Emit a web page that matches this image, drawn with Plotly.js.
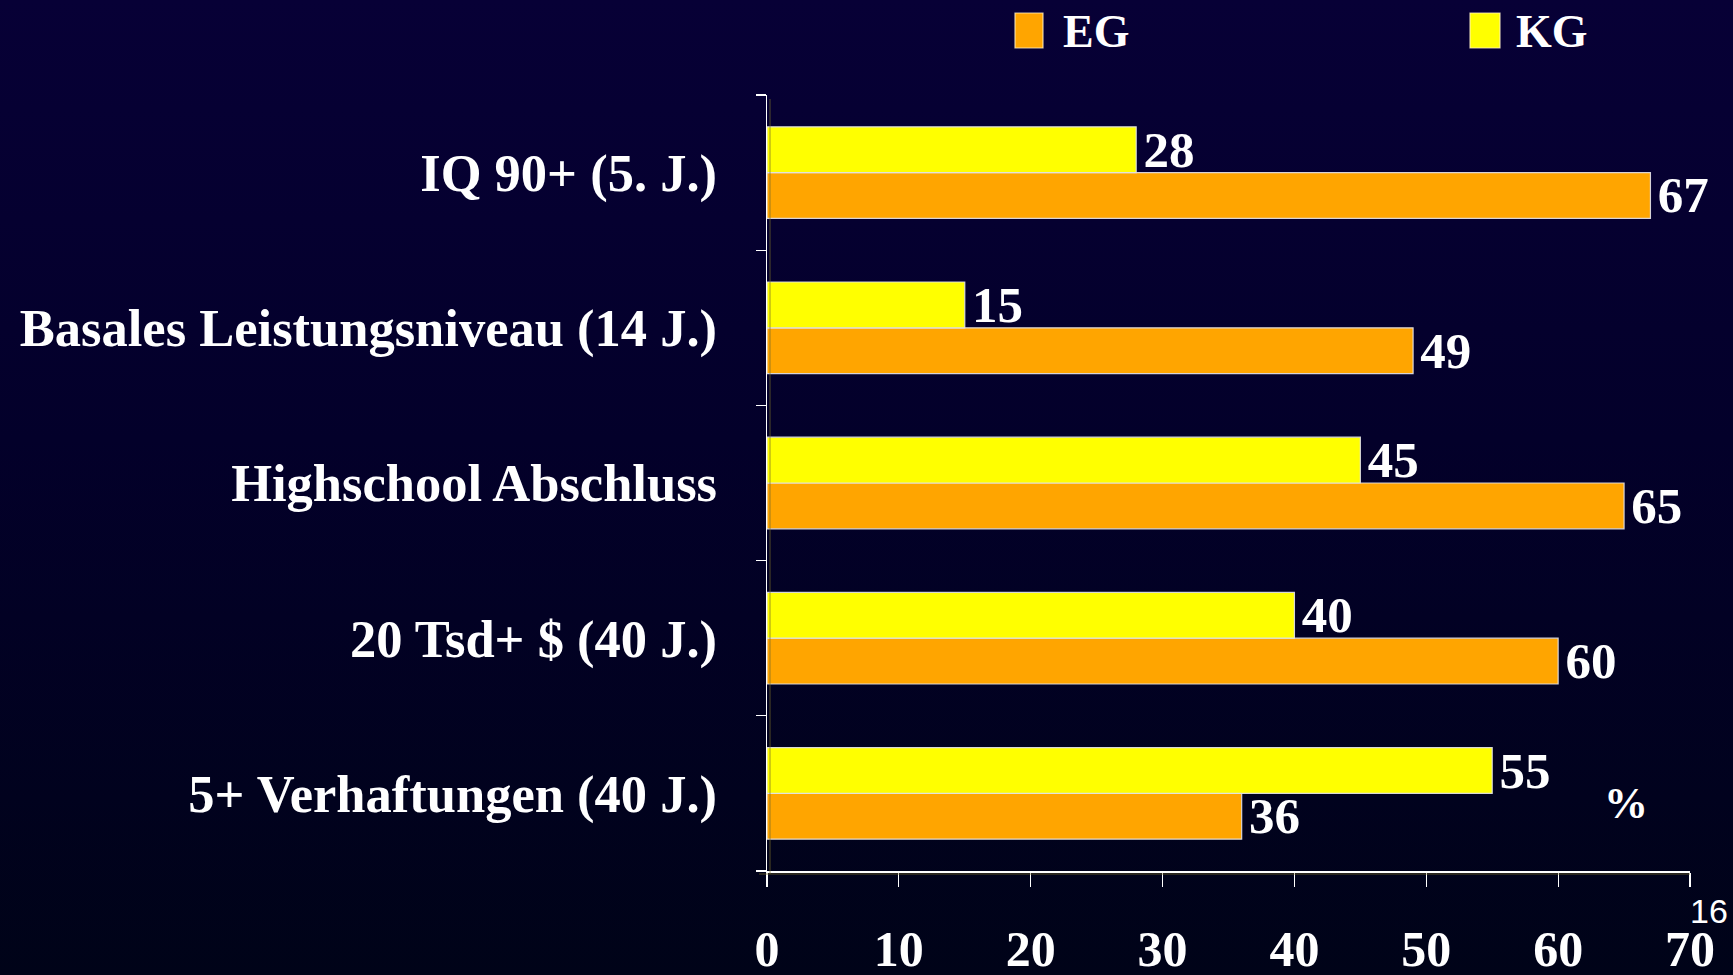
<!DOCTYPE html>
<html>
<head>
<meta charset="utf-8">
<script src="https://cdn.plot.ly/plotly-3.0.1.min.js"></script>
<style>
  html, body { margin: 0; padding: 0; overflow: hidden; }
  body { width: 1733px; height: 975px; background: linear-gradient(to bottom, #070036 0%, #03002a 45%, #000318 100%); }
  #chart { width: 1733px; height: 975px; }
</style>
</head>
<body>
<div id="chart"></div>
<script>
// Data (top-to-bottom display order)
const categories = [
  "IQ 90+ (5. J.)",
  "Basales Leistungsniveau (14 J.)",
  "Highschool Abschluss",
  "20 Tsd+ $ (40 J.)",
  "5+ Verhaftungen (40 J.)"
];
const seriesNames = ["EG", "KG"];
const egValues = [67, 49, 65, 60, 36];
const kgValues = [28, 15, 45, 40, 55];
const xTickValues = [0, 10, 20, 30, 40, 50, 60, 70];
const unitLabel = "%";
const pageNumber = "16";

const colors = { EG: "#FFA500", KG: "#FFFF00" };
const serif = "Liberation Serif, Times New Roman, serif";

function barTrace(name, values) {
  return {
    type: "bar",
    orientation: "h",
    name: name,
    y: categories,
    x: values,
    texttemplate: "\u200a%{x}",
    textposition: "outside",
    constraintext: "none",
    cliponaxis: false,
    textfont: { family: serif, size: 51, color: "#ffffff", weight: "bold" },
    marker: { color: colors[name], line: { color: "rgba(225,225,235,0.9)", width: 1.2 } },
    hoverinfo: "x+y+name",
    showlegend: false
  };
}

// EG first -> lower slot in each group, KG above
const data = [barTrace(seriesNames[0], egValues), barTrace(seriesNames[1], kgValues)];

const plotLeft = 767, plotRight = 1690, plotTop = 95, plotBottom = 871;
const W = 1733, H = 975;
const pw = plotRight - plotLeft, ph = plotBottom - plotTop;
const px = v => (v - plotLeft) / pw;
const py = v => (plotBottom - v) / ph;

const legendItems = [
  { name: seriesNames[0], sx0: 1015, sx1: 1043, tx: 1061 },
  { name: seriesNames[1], sx0: 1470, sx1: 1500, tx: 1514 }
];

const shapes = legendItems.map(it => ({
  type: "rect", xref: "paper", yref: "paper",
  x0: px(it.sx0), x1: px(it.sx1), y0: py(48), y1: py(13),
  fillcolor: colors[it.name],
  line: { color: "rgba(255,240,200,0.8)", width: 1.2 }
}));
// faint offset shadow lines of axes
shapes.push({ type: "line", xref: "paper", yref: "paper", x0: px(plotLeft + 3), x1: px(plotLeft + 3), y0: py(plotBottom + 3), y1: py(plotTop + 4), line: { color: "rgba(120,110,40,0.7)", width: 1 } });
shapes.push({ type: "line", xref: "paper", yref: "paper", x0: px(plotLeft - 8), x1: 1, y0: py(plotBottom + 3), y1: py(plotBottom + 3), line: { color: "rgba(120,110,40,0.7)", width: 1 } });

const annotations = legendItems.map(it => ({
  xref: "paper", yref: "paper", x: px(it.tx), y: py(31),
  xanchor: "left", yanchor: "middle", showarrow: false,
  text: it.name,
  font: { family: serif, size: 46, color: "#ffffff", weight: "bold" }
}));
annotations.push({
  xref: "paper", yref: "paper", x: px(1626), y: py(803),
  xanchor: "center", yanchor: "middle", showarrow: false,
  text: unitLabel,
  font: { family: serif, size: 44, color: "#ffffff", weight: "bold" }
});
annotations.push({
  xref: "paper", yref: "paper", x: px(1688), y: py(911),
  xanchor: "left", yanchor: "middle", showarrow: false,
  text: pageNumber,
  font: { family: "Liberation Sans, Arial, sans-serif", size: 34, color: "#ffffff" }
});

const layout = {
  width: W, height: H,
  paper_bgcolor: "rgba(0,0,0,0)",
  plot_bgcolor: "rgba(0,0,0,0)",
  margin: { l: plotLeft, r: W - plotRight, t: plotTop, b: H - plotBottom, pad: 0 },
  barmode: "group",
  bargap: 0.41,
  bargroupgap: 0,
  showlegend: false,
  xaxis: {
    range: [0, 70],
    tickmode: "array",
    tickvals: xTickValues,
    ticktext: xTickValues.map(String),
    showgrid: false, zeroline: false,
    showline: true, linecolor: "#ffffff", linewidth: 1.5,
    ticks: "outside", ticklen: 14, tickwidth: 1.2, tickcolor: "#ffffff",
    ticklabelstandoff: 19,
    tickfont: { family: serif, size: 50, color: "#ffffff", weight: "bold" },
    fixedrange: true
  },
  yaxis: {
    type: "category",
    categoryorder: "array",
    categoryarray: categories.slice().reverse(),
    tickson: "boundaries",
    showgrid: false, zeroline: false,
    showline: true, linecolor: "#ffffff", linewidth: 1.5,
    ticks: "outside", ticklen: 10, tickwidth: 1.2, tickcolor: "#ffffff",
    ticklabelstandoff: 38,
    tickfont: { family: serif, size: 52.5, color: "#ffffff", weight: "bold" },
    fixedrange: true
  },
  shapes: shapes,
  annotations: annotations,
  font: { family: serif, color: "#ffffff" }
};

Plotly.newPlot("chart", data, layout, { displayModeBar: false, staticPlot: true });
</script>
</body>
</html>
